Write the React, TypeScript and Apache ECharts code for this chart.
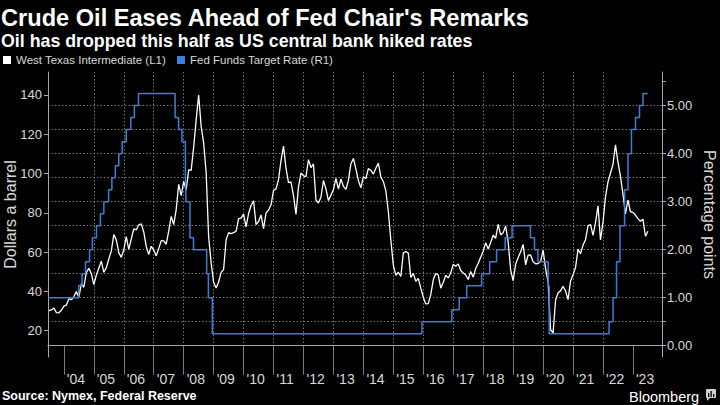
import React, { useEffect, useRef } from "react";
import * as echarts from "echarts";

const FONT = '"Liberation Sans", Arial, Helvetica, sans-serif';

// WTI crude, month-end close (USD / barrel)
const wti2003 = [30.19, 30.54, 31.57, 29.2, 29.11, 30.41, 32.52]; // Jun-Dec
const wti2004 = [33.05, 36.16, 35.76, 37.38, 39.88, 37.05, 43.8, 42.12, 49.64, 51.76, 49.13, 43.45];
const wti2005 = [48.2, 51.75, 55.4, 49.72, 51.97, 56.5, 60.57, 68.94, 66.24, 59.76, 57.32, 61.04];
const wti2006 = [67.92, 61.41, 66.63, 71.88, 71.29, 73.93, 74.4, 70.26, 62.91, 58.73, 62.97, 61.05];
const wti2007 = [58.14, 61.79, 65.87, 65.71, 64.01, 70.68, 78.21, 74.04, 81.66, 94.53, 88.71, 95.98];
const wti2008 = [91.75, 101.84, 101.58, 113.46, 127.35, 140.0, 124.08, 115.46, 100.64, 67.81, 54.43, 44.6];
const wti2009 = [41.68, 44.76, 49.66, 51.12, 66.31, 69.89, 69.45, 69.96, 70.61, 77.0, 77.28, 79.36];
const wti2010 = [72.89, 79.66, 83.76, 86.15, 73.97, 75.63, 78.95, 71.92, 79.97, 81.43, 84.11, 91.38];
const wti2011 = [92.19, 96.97, 106.72, 113.93, 102.7, 95.42, 95.7, 88.81, 79.2, 93.19, 100.36, 98.83];
const wti2012 = [98.48, 107.07, 103.02, 104.87, 86.53, 84.96, 88.06, 96.47, 92.19, 86.24, 88.91, 91.82];
const wti2013 = [97.49, 92.05, 97.23, 93.46, 91.97, 96.56, 105.03, 107.65, 102.33, 96.38, 92.72, 98.42];
const wti2014 = [97.49, 102.59, 101.58, 99.74, 102.71, 105.37, 98.17, 95.96, 91.16, 80.54, 66.15, 53.27];
const wti2015 = [48.24, 49.76, 47.6, 59.63, 60.3, 59.47, 47.12, 49.2, 45.09, 46.59, 41.65, 37.04];
const wti2016 = [33.62, 33.75, 38.34, 45.92, 49.1, 48.33, 41.6, 44.7, 48.24, 46.86, 49.44, 53.72];
const wti2017 = [52.81, 54.01, 50.6, 49.33, 48.32, 46.04, 50.17, 47.23, 51.67, 54.38, 57.4, 60.42];
const wti2018 = [64.73, 61.64, 64.94, 68.57, 67.04, 74.15, 68.76, 69.8, 73.25, 65.31, 50.93, 45.41];
const wti2019 = [53.79, 57.22, 60.14, 63.91, 53.5, 58.47, 58.58, 55.1, 54.07, 54.18, 55.17, 61.06];
const wti2020 = [51.56, 44.76, 20.48, 18.84, 35.49, 39.27, 40.27, 42.61, 40.22, 35.79, 45.34, 48.52];
const wti2021 = [52.2, 61.5, 59.16, 63.58, 66.32, 73.47, 73.95, 68.5, 75.03, 83.57, 66.18, 75.21];
const wti2022 = [88.15, 95.72, 100.28, 104.69, 114.67, 105.76, 98.62, 89.55, 79.49, 86.53, 80.55, 80.26];
const wti2023 = [78.87, 77.05, 75.67, 76.78, 68.09, 70.64]; // Jan-Jun

const wtiYears = [
  [2003, 6, wti2003], [2004, 1, wti2004], [2005, 1, wti2005], [2006, 1, wti2006],
  [2007, 1, wti2007], [2008, 1, wti2008], [2009, 1, wti2009], [2010, 1, wti2010],
  [2011, 1, wti2011], [2012, 1, wti2012], [2013, 1, wti2013], [2014, 1, wti2014],
  [2015, 1, wti2015], [2016, 1, wti2016], [2017, 1, wti2017], [2018, 1, wti2018],
  [2019, 1, wti2019], [2020, 1, wti2020], [2021, 1, wti2021], [2022, 1, wti2022],
  [2023, 1, wti2023],
] as [number, number, number[]][];

// Fed funds target rate (upper bound), change dates
const fedDates = [
  "2003-06-25", "2004-06-30", "2004-08-10", "2004-09-21", "2004-11-10", "2004-12-14",
  "2005-02-02", "2005-03-22", "2005-05-03", "2005-06-30", "2005-08-09", "2005-09-20",
  "2005-11-01", "2005-12-13", "2006-01-31", "2006-03-28", "2006-05-10", "2006-06-29",
  "2007-09-18", "2007-10-31", "2007-12-11", "2008-01-22", "2008-01-30", "2008-03-18",
  "2008-04-30", "2008-10-08", "2008-10-29", "2008-12-16", "2015-12-16", "2016-12-14",
  "2017-03-15", "2017-06-14", "2017-12-13", "2018-03-21", "2018-06-13", "2018-09-26",
  "2018-12-19", "2019-07-31", "2019-09-18", "2019-10-30", "2020-03-03", "2020-03-15",
  "2022-03-16", "2022-05-04", "2022-06-15", "2022-07-27", "2022-09-21", "2022-11-02",
  "2022-12-14", "2023-02-01", "2023-03-22", "2023-05-03", "2023-06-30",
];
const fedRates = [
  1.0, 1.25, 1.5, 1.75, 2.0, 2.25,
  2.5, 2.75, 3.0, 3.25, 3.5, 3.75,
  4.0, 4.25, 4.5, 4.75, 5.0, 5.25,
  4.75, 4.5, 4.25, 3.5, 3.0, 2.25,
  2.0, 1.5, 1.0, 0.25, 0.5, 0.75,
  1.0, 1.25, 1.5, 1.75, 2.0, 2.25,
  2.5, 2.25, 2.0, 1.75, 1.25, 0.25,
  0.5, 1.0, 1.75, 2.5, 3.25, 4.0,
  4.5, 4.75, 5.0, 5.25, 5.25,
];

const yearTicks = [2004, 2005, 2006, 2007, 2008, 2009, 2010, 2011, 2012, 2013, 2014, 2015, 2016, 2017, 2018, 2019, 2020, 2021, 2022, 2023];
const usdTicks = [20, 40, 60, 80, 100, 120, 140];
const pctTicks = [0, 1, 2, 3, 4, 5];
const pctMinorTicks = [0, 0.5, 1, 1.5, 2, 2.5, 3, 3.5, 4, 4.5, 5, 5.5];

const SERIES_WTI = "West Texas Intermediate (L1)";
const SERIES_FED = "Fed Funds Target Rate (R1)";
const LEFT_NAME = "Dollars a barrel";
const RIGHT_NAME = "Percentage points";

function decimalYear(s: string): number {
  const [y, m, d] = s.split("-").map(Number);
  const start = Date.UTC(y, 0, 1);
  const end = Date.UTC(y + 1, 0, 1);
  return y + (Date.UTC(y, m - 1, d) - start) / (end - start);
}

export default function App() {
  const ref = useRef<HTMLDivElement>(null);

  useEffect(() => {
    document.body.style.margin = "0";
    document.body.style.background = "#000";
    const chart = echarts.init(ref.current!, null, { renderer: "svg" });

    const wtiData: [number, number][] = [];
    wtiYears.forEach(([year, firstMonth, vals]) => {
      vals.forEach((v, i) => {
        const month = firstMonth + i; // month-end
        wtiData.push([year + month / 12, v]);
      });
    });
    const fedData: [number, number][] = fedDates.map((d, i) => [decimalYear(d), fedRates[i]]);

    const axisColor = "#a8a8a8";
    const labelColor = "#d8d8d8";
    const gridColor = "#767676";
    const blue = "#3b7fdc";

    chart.setOption({
      animation: false,
      backgroundColor: "#000",
      textStyle: { fontFamily: FONT },
      title: {
        text: "Crude Oil Eases Ahead of Fed Chair's Remarks",
        subtext: "Oil has dropped this half as US central bank hiked rates",
        left: 1,
        top: 6,
        padding: 0,
        itemGap: 2,
        textStyle: { color: "#fff", fontSize: 23.6, fontWeight: "bold", fontFamily: FONT },
        subtextStyle: { color: "#fff", fontSize: 17.8, fontWeight: "bold", fontFamily: FONT },
      },
      legend: {
        left: 3,
        top: 54,
        padding: 0,
        itemWidth: 8,
        itemHeight: 8,
        itemGap: 11,
        icon: "rect",
        textStyle: { color: labelColor, fontSize: 11.5, fontFamily: FONT },
        data: [SERIES_WTI, SERIES_FED],
      },
      grid: { left: 48, right: 58, top: 72, bottom: 48, containLabel: false, outerBoundsMode: "none" },
      xAxis: {
        type: "value",
        min: 2003.47,
        max: 2023.97,
        axisLine: { show: true, lineStyle: { color: axisColor, width: 1 } },
        axisTick: {
          show: true,
          customValues: yearTicks,
          length: 29,
          lineStyle: { color: "#7a7a7a", width: 1 },
        },
        axisLabel: {
          customValues: yearTicks,
          formatter: (v: number) => "'" + String(Math.round(v)).slice(2),
          color: labelColor,
          fontSize: 14,
          fontFamily: FONT,
          align: "left",
          padding: [0, 0, 0, 3],
          margin: 15,
        },
        splitLine: {
          show: true,
          showMinLine: false,
          showMaxLine: false,
          lineStyle: { color: gridColor, type: [1.5, 2], width: 1 },
        },
      },
      yAxis: [
        {
          type: "value",
          position: "left",
          min: 6.6,
          max: 151.7,
          axisLine: { show: true, lineStyle: { color: axisColor, width: 1 } },
          axisTick: { show: true, customValues: usdTicks, length: 4, lineStyle: { color: axisColor } },
          axisLabel: { customValues: usdTicks, color: labelColor, fontSize: 13, margin: 6, fontFamily: FONT },
          splitLine: { show: false },
        },
        {
          type: "value",
          position: "right",
          min: -0.235,
          max: 5.7,
          splitNumber: 6,
          axisLine: { show: true, lineStyle: { color: axisColor, width: 1 } },
          axisTick: { show: true, customValues: pctMinorTicks, length: 4, lineStyle: { color: axisColor } },
          axisLabel: {
            customValues: pctTicks,
            formatter: (v: number) => v.toFixed(2),
            color: labelColor,
            fontSize: 13,
            margin: 5,
            fontFamily: FONT,
          },
          splitLine: {
            show: true,
            showMinLine: false,
            showMaxLine: false,
            lineStyle: { color: gridColor, type: [1.5, 2], width: 1 },
          },
        },
      ],
      series: [
        {
          name: SERIES_WTI,
          type: "line",
          yAxisIndex: 0,
          data: wtiData,
          symbol: "none",
          showSymbol: false,
          lineStyle: { color: "#ffffff", width: 1.3 },
          itemStyle: { color: "#ffffff" },
        },
        {
          name: SERIES_FED,
          type: "line",
          yAxisIndex: 1,
          step: "end",
          data: fedData,
          symbol: "none",
          showSymbol: false,
          lineStyle: { color: blue, width: 1.5 },
          itemStyle: { color: blue },
        },
      ],
      graphic: [
        {
          type: "text",
          x: 10,
          y: 214.5,
          rotation: Math.PI / 2,
          style: {
            text: LEFT_NAME,
            fill: labelColor,
            font: `16px ${FONT}`,
            align: "center",
            verticalAlign: "middle",
          },
        },
        {
          type: "text",
          x: 709,
          y: 214.5,
          rotation: -Math.PI / 2,
          style: {
            text: RIGHT_NAME,
            fill: labelColor,
            font: `16px ${FONT}`,
            align: "center",
            verticalAlign: "middle",
          },
        },
        {
          type: "text",
          left: 2,
          top: 389,
          style: {
            text: "Source: Nymex, Federal Reserve",
            fill: "#ffffff",
            font: `bold 12.5px ${FONT}`,
          },
        },
        {
          type: "text",
          left: 629,
          top: 389,
          style: {
            text: "Bloomberg",
            fill: "#ffffff",
            font: `14.5px ${FONT}`,
          },
        },
        {
          type: "group",
          left: 706,
          top: 389,
          children: [
            { type: "rect", shape: { x: 0, y: 0, width: 10, height: 9, r: 1 }, style: { fill: "#d0d0d0" } },
            { type: "polygon", shape: { points: [[1, 9], [4, 9], [1, 12]] }, style: { fill: "#d0d0d0" } },
            { type: "rect", shape: { x: 2, y: 4, width: 1.3, height: 4 }, style: { fill: "#000" } },
            { type: "rect", shape: { x: 4.5, y: 2, width: 1.3, height: 6 }, style: { fill: "#000" } },
            { type: "rect", shape: { x: 7, y: 5, width: 1.3, height: 3 }, style: { fill: "#000" } },
          ],
        },
      ],
    });

    return () => chart.dispose();
  }, []);

  return (
    <div
      ref={ref}
      style={{ position: "fixed", left: 0, top: 0, width: 720, height: 405, background: "#000" }}
    />
  );
}
